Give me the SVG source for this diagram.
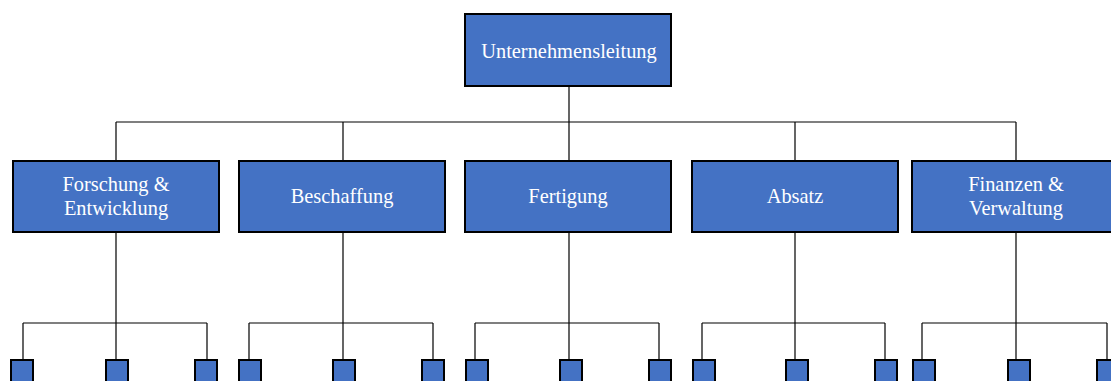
<svg xmlns="http://www.w3.org/2000/svg" width="1111" height="381" viewBox="0 0 1111 381">
  <style>
    .box { fill: #4472C4; stroke: #000; stroke-width: 2; }
    .lbl { fill: #fff; font-family: "Liberation Serif", "Times New Roman", serif; font-size: 20.4px; text-anchor: middle; }
    .wire { stroke: #000; stroke-width: 1.2; fill: none; }
  </style>
  <rect width="1111" height="381" fill="#fff"/>

  <!-- connectors -->
  <g id="connectors" class="wire">
    <path d="M569 86V122M116 122H1016M116 122V161M343 122V161M569 122V161M795 122V161M1016 122V161"/>
    <!-- group 1 -->
    <path d="M116 232V323M23 323H207M23 323V359M116 323V359M207 323V359"/>
    <!-- group 2 -->
    <path d="M343 232V323M249 323H433M249 323V359M343 323V359M433 323V359"/>
    <!-- group 3 -->
    <path d="M569 232V323M475 323H659M475 323V359M569 323V359M659 323V359"/>
    <!-- group 4 -->
    <path d="M795 232V323M702 323H885M702 323V359M795 323V359M885 323V359"/>
    <!-- group 5 -->
    <path d="M1016 232V323M922 323H1107M922 323V359M1016 323V359M1107 323V359"/>
  </g>

  <g id="unternehmensleitung">
    <rect class="box" x="465" y="14" width="206" height="72"/>
    <text class="lbl" x="569" y="58">Unternehmensleitung</text>
  </g>

  <g id="forschung">
    <rect class="box" x="13" y="161" width="206" height="71"/>
    <text class="lbl" x="116" y="191">Forschung &amp;</text>
    <text class="lbl" x="116" y="215">Entwicklung</text>
  </g>
  <g id="beschaffung">
    <rect class="box" x="239" y="161" width="206" height="71"/>
    <text class="lbl" x="342" y="203">Beschaffung</text>
  </g>
  <g id="fertigung">
    <rect class="box" x="465" y="161" width="206" height="71"/>
    <text class="lbl" x="568" y="203">Fertigung</text>
  </g>
  <g id="absatz">
    <rect class="box" x="692" y="161" width="206" height="71"/>
    <text class="lbl" x="795" y="203">Absatz</text>
  </g>
  <g id="finanzen">
    <rect class="box" x="912" y="161" width="208" height="71"/>
    <text class="lbl" x="1016" y="191">Finanzen &amp;</text>
    <text class="lbl" x="1016" y="215">Verwaltung</text>
  </g>

  <!-- sub-units -->
  <g id="sub-1-1"><rect class="box" x="11" y="360" width="22" height="30"/></g>
  <g id="sub-1-2"><rect class="box" x="106" y="360" width="22" height="30"/></g>
  <g id="sub-1-3"><rect class="box" x="195" y="360" width="22" height="30"/></g>
  <g id="sub-2-1"><rect class="box" x="239" y="360" width="22" height="30"/></g>
  <g id="sub-2-2"><rect class="box" x="333" y="360" width="22" height="30"/></g>
  <g id="sub-2-3"><rect class="box" x="422" y="360" width="22" height="30"/></g>
  <g id="sub-3-1"><rect class="box" x="466" y="360" width="22" height="30"/></g>
  <g id="sub-3-2"><rect class="box" x="560" y="360" width="22" height="30"/></g>
  <g id="sub-3-3"><rect class="box" x="649" y="360" width="22" height="30"/></g>
  <g id="sub-4-1"><rect class="box" x="693" y="360" width="22" height="30"/></g>
  <g id="sub-4-2"><rect class="box" x="786" y="360" width="22" height="30"/></g>
  <g id="sub-4-3"><rect class="box" x="875" y="360" width="22" height="30"/></g>
  <g id="sub-5-1"><rect class="box" x="913" y="360" width="22" height="30"/></g>
  <g id="sub-5-2"><rect class="box" x="1008" y="360" width="22" height="30"/></g>
  <g id="sub-5-3"><rect class="box" x="1097" y="360" width="22" height="30"/></g>
</svg>
